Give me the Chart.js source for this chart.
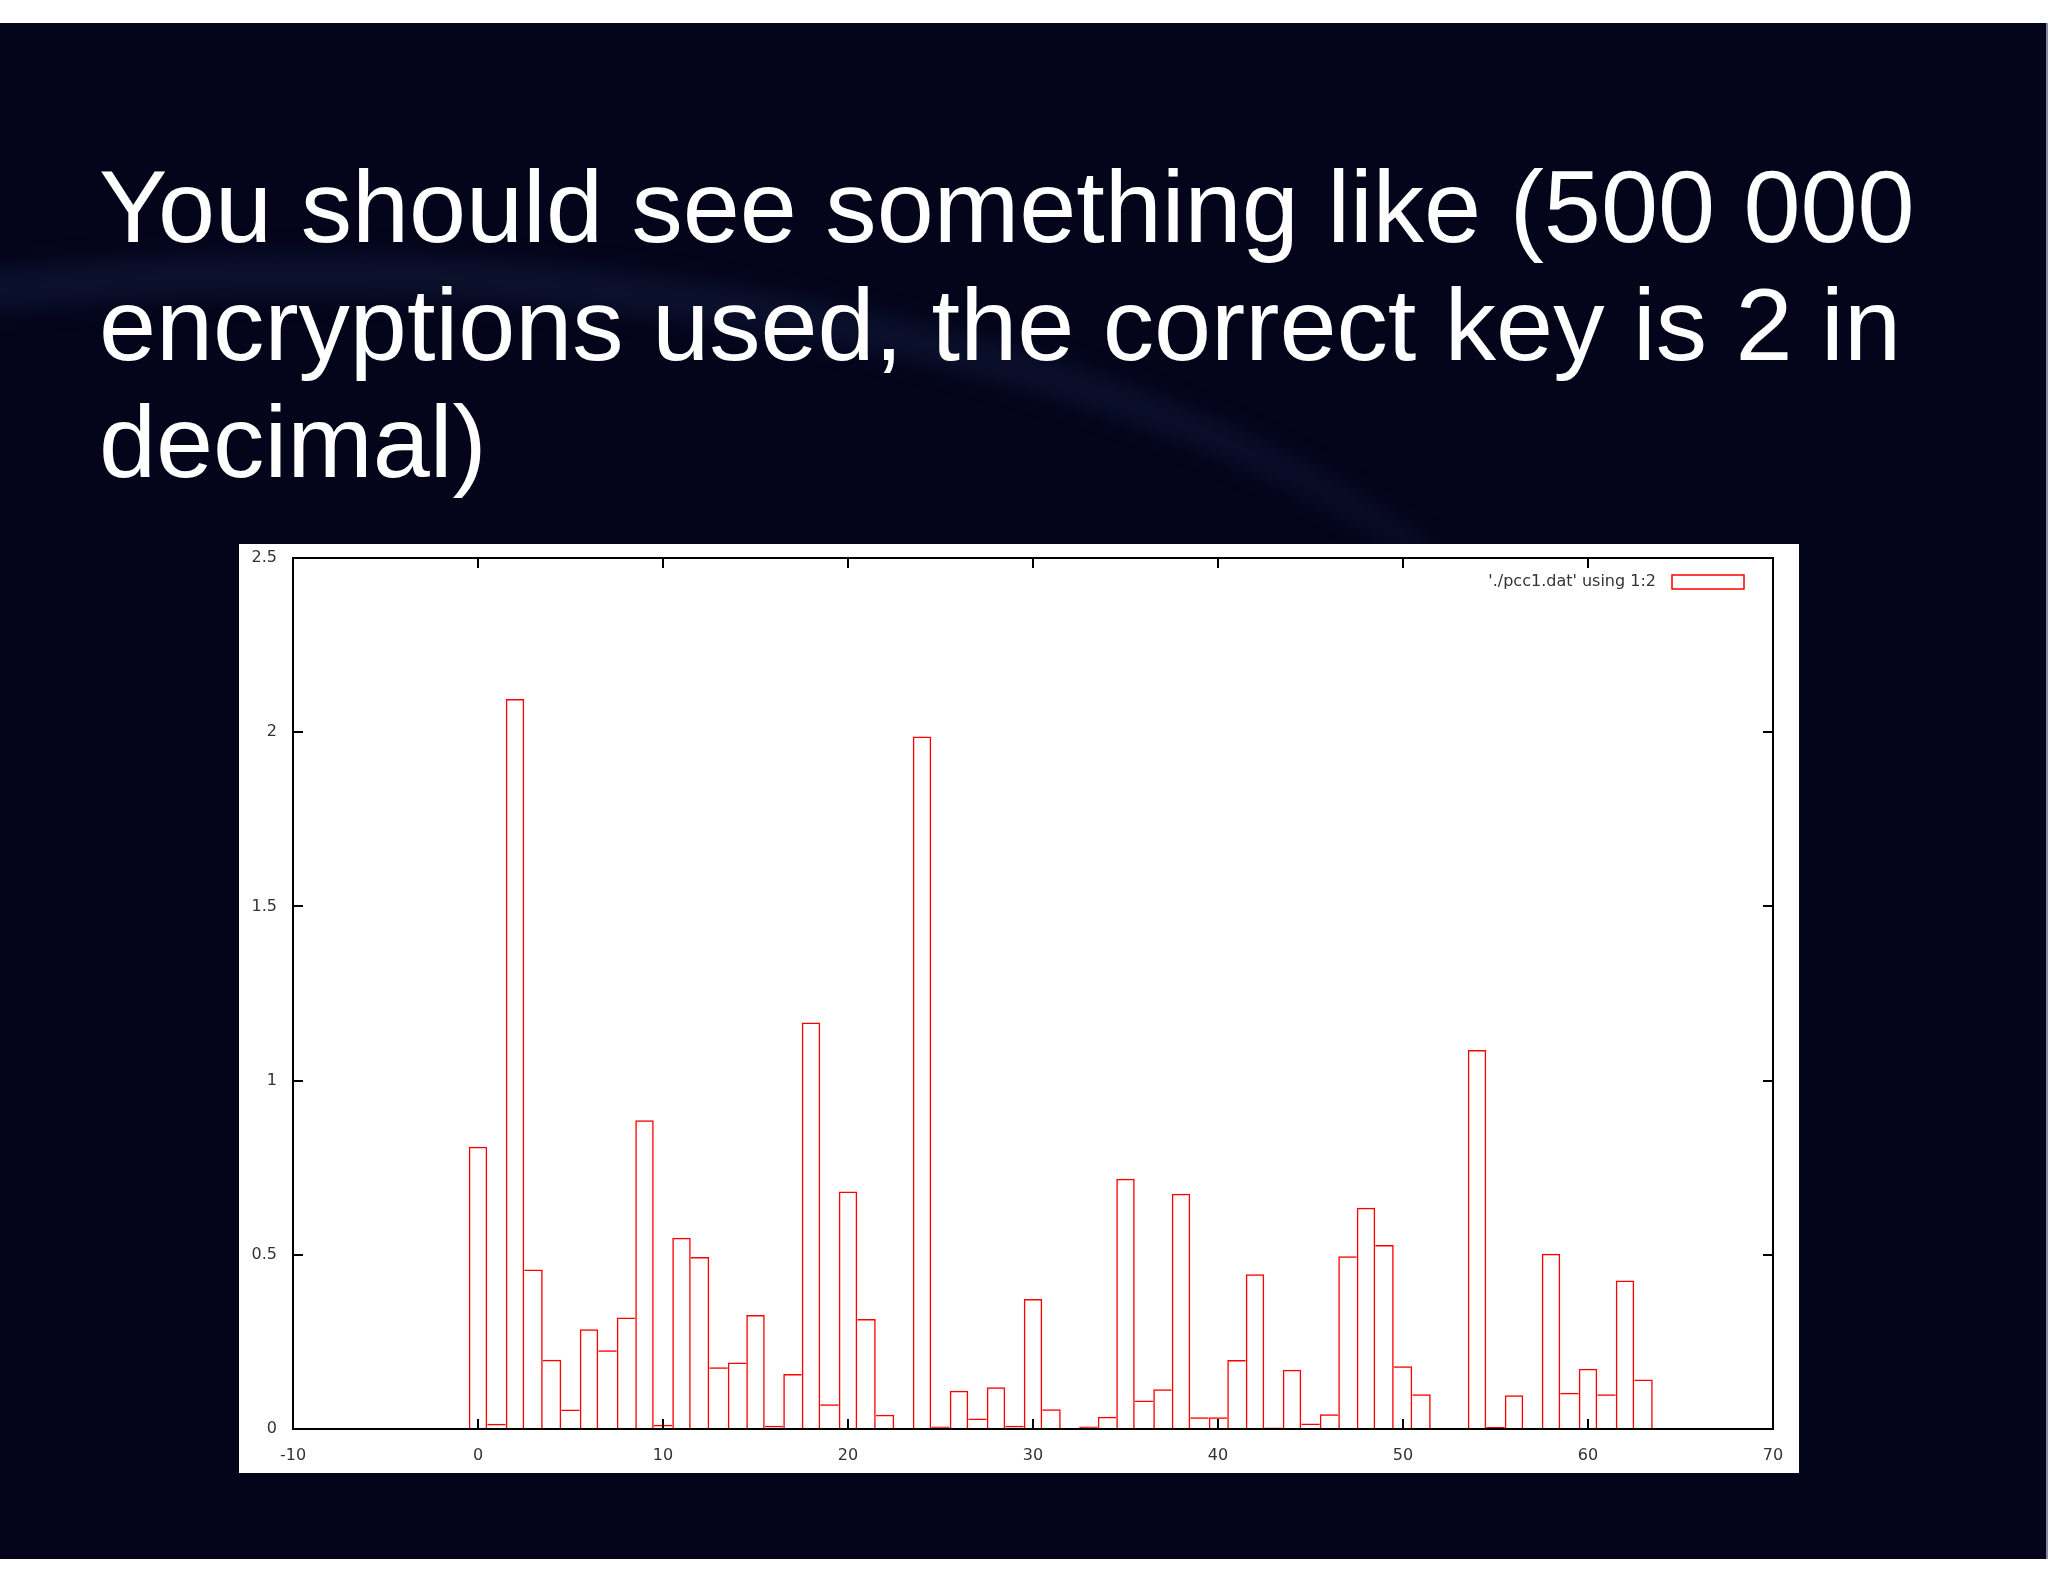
<!DOCTYPE html>
<html>
<head>
<meta charset="utf-8">
<script src="https://cdn.jsdelivr.net/npm/chart.js@4.4.1/dist/chart.umd.min.js"></script>
<style>
  html, body { margin: 0; padding: 0; background: #fff; }
  #page { position: relative; width: 2048px; height: 1582px; overflow: hidden; background: #fff; }
  #slide {
    position: absolute; left: 0; top: 23px; width: 2046px; height: 1536px;
    background: #04041a; overflow: hidden; border-right: 2px solid #8c88a4;
  }
  #arc {
    position: absolute; left: -1000px; top: 232px; width: 2600px; height: 1120px;
    border-radius: 50%; border-top: 40px solid rgba(40, 70, 120, 0.22);
    filter: blur(14px);
  }
  #title {
    position: absolute; left: 99px; top: 125px; margin: 0;
    font-family: "Liberation Sans", Arial, sans-serif; font-weight: normal;
    font-size: 102.6px; line-height: 117.5px; color: #fff; white-space: nowrap;
  }
  #chartBox { position: absolute; left: 239px; top: 521px; width: 1560px; height: 929px; background: #fff; }
</style>
</head>
<body>
<div id="page">
  <div id="slide">
    <div id="arc"></div>
    <h1 id="title">You should see something like (500 000<br>encryptions used, the correct key is 2 in<br>decimal)</h1>
    <div id="chartBox"><canvas id="pccChart" width="1560" height="929"></canvas></div>
  </div>
</div>
<script>
const keys = [0, 1, 2, 3, 4, 5, 6, 7, 8, 9, 10, 11, 12, 13, 14, 15,
  16, 17, 18, 19, 20, 21, 22, 23, 24, 25, 26, 27, 28, 29, 30, 31,
  32, 33, 34, 35, 36, 37, 38, 39, 40, 41, 42, 43, 44, 45, 46, 47,
  48, 49, 50, 51, 52, 53, 54, 55, 56, 57, 58, 59, 60, 61, 62, 63];

const pcc = [0.81, 0.015, 2.095, 0.458, 0.199, 0.056, 0.286, 0.226,
  0.32, 0.886, 0.012, 0.549, 0.494, 0.177, 0.191, 0.327,
  0.009, 0.158, 1.167, 0.071, 0.682, 0.316, 0.041, null,
  1.988, 0.007, 0.11, 0.03, 0.12, 0.009, 0.373, 0.057,
  null, 0.007, 0.035, 0.718, 0.082, 0.114, 0.675, 0.034,
  0.034, 0.198, 0.444, 0.004, 0.17, 0.016, 0.042, 0.496,
  0.635, 0.528, 0.18, 0.1, null, null, 1.088, 0.006,
  0.097, null, 0.503, 0.104, 0.173, 0.1, 0.426, 0.142];

const xTicks = [-10, 0, 10, 20, 30, 40, 50, 60, 70];
const yTicks = [0, 0.5, 1, 1.5, 2, 2.5];
const yLabels = ["0", "0.5", "1", "1.5", "2", "2.5"];
const seriesLabel = "'./pcc1.dat' using 1:2";

const RED = "#ff0000";
const LINE = 1.5;
const tickFont = { family: "DejaVu Sans", size: 16 };

// gnuplot style boxes: a shared edge is drawn once, by the taller box
function edges(ctx) {
  const i = ctx.dataIndex;
  const v = pcc[i];
  const prev = i > 0 ? pcc[i - 1] : null;
  const next = i < pcc.length - 1 ? pcc[i + 1] : null;
  return {
    top: LINE,
    bottom: 0,
    left: (prev == null || prev <= v) ? LINE : 0,
    right: (next == null || next < v) ? LINE : 0
  };
}

// border, inward ticks on all four sides, and the key box
const frame = {
  id: "frame",
  afterDatasetsDraw(chart) {
    const { ctx, chartArea: a, scales } = chart;
    const x = scales.x, y = scales.y;
    ctx.save();
    ctx.strokeStyle = "#000";
    ctx.lineWidth = 2;
    ctx.beginPath();
    xTicks.forEach(v => {
      const px = Math.round(x.getPixelForValue(v));
      ctx.moveTo(px, a.bottom); ctx.lineTo(px, a.bottom - 10);
      ctx.moveTo(px, a.top); ctx.lineTo(px, a.top + 10);
    });
    yTicks.forEach(v => {
      const py = Math.round(y.getPixelForValue(v));
      ctx.moveTo(a.left, py); ctx.lineTo(a.left + 10, py);
      ctx.moveTo(a.right, py); ctx.lineTo(a.right - 10, py);
    });
    ctx.stroke();
    ctx.strokeRect(a.left, a.top, a.right - a.left, a.bottom - a.top);

    ctx.font = '16px "DejaVu Sans"';
    ctx.fillStyle = "#333";
    ctx.textAlign = "right";
    ctx.textBaseline = "middle";
    ctx.fillText(seriesLabel, a.right - 117, a.top + 24);
    ctx.strokeStyle = RED;
    ctx.lineWidth = LINE;
    ctx.strokeRect(a.right - 101, a.top + 17, 72, 14);
    ctx.restore();
  }
};

new Chart(document.getElementById("pccChart"), {
  type: "bar",
  data: {
    datasets: [{
      label: seriesLabel,
      data: keys.map((k, i) => ({ x: k, y: pcc[i] })),
      backgroundColor: "rgba(0,0,0,0)",
      borderColor: RED,
      borderWidth: edges,
      borderSkipped: false,
      inflateAmount: 0,
      barPercentage: 1,
      categoryPercentage: 1
    }]
  },
  options: {
    responsive: false,
    animation: false,
    layout: { padding: { top: 14, right: 26, left: 0, bottom: 0 } },
    plugins: { legend: { display: false }, tooltip: { enabled: false } },
    scales: {
      x: {
        type: "linear",
        min: -10,
        max: 70,
        offset: false,
        grid: { display: false, drawTicks: false },
        border: { display: false },
        afterBuildTicks: s => { s.ticks = xTicks.map(v => ({ value: v })); },
        afterFit: s => { s.height = 44; s.paddingLeft = 0; s.paddingRight = 0; },
        ticks: { font: tickFont, color: "#333", padding: 17, maxRotation: 0 }
      },
      y: {
        min: 0,
        max: 2.5,
        grid: { display: false, drawTicks: false },
        border: { display: false },
        afterBuildTicks: s => { s.ticks = yTicks.map(v => ({ value: v })); },
        afterFit: s => { s.width = 54; s.paddingTop = 0; s.paddingBottom = 0; },
        ticks: {
          font: tickFont,
          color: "#333",
          padding: 16,
          callback: (v, i) => yLabels[i]
        }
      }
    }
  },
  plugins: [frame]
});
</script>
</body>
</html>
